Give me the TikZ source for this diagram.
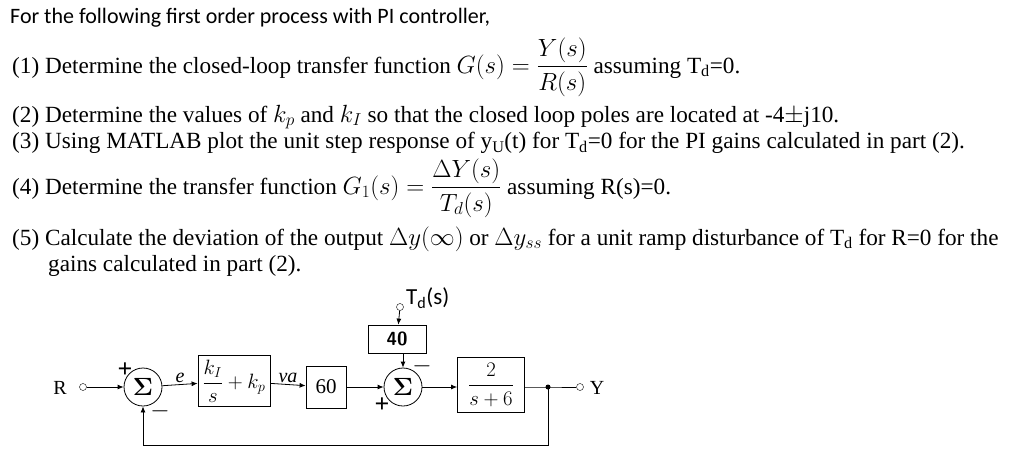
\documentclass[tikz,border=0pt]{standalone}
\usepackage{amsmath}
\usepackage{fontspec}
\setmainfont{Liberation Serif}
\newfontfamily\calib{Carlito}
\usetikzlibrary{arrows.meta}
\begin{document}
\begin{tikzpicture}[x=1pt,y=-1pt,
  txt/.style={anchor=west,inner sep=0pt,font=\fontsize{23.2}{26}\selectfont},
  blk/.style={draw,thick,inner sep=0pt,minimum height=#1,font=\fontsize{21}{24}\selectfont},
  sumn/.style={draw,thick,circle,minimum size=38pt,inner sep=0pt,font=\fontsize{26}{28}\selectfont},
  port/.style={draw,circle,minimum size=7pt,inner sep=0pt},
  sig/.style={-{Latex[length=6pt,width=5pt]},thick},
  lab/.style={inner sep=1pt,font=\fontsize{20}{22}\selectfont},
  sgn/.style={inner sep=0pt,font=\bfseries\fontsize{26}{28}\selectfont}]
\useasboundingbox (0,0) rectangle (1024,450);

% questions
\node[txt,font=\calib\fontsize{22}{24}\selectfont] (q0) at (10,18) {For the following first order process with PI controller,};
\node[txt] (q1) at (12,67) {(1) Determine the closed-loop transfer function $G(s)=\dfrac{Y(s)}{R(s)}$\ assuming T\textsubscript{d}=0.};
\node[txt] (q2) at (12,117) {(2) Determine the values of $k_p$ and $k_I$ so that the closed loop poles are located at -4$\pm$j10.};
\node[txt] (q3) at (12,143) {(3) Using MATLAB plot the unit step response of y\textsubscript{U}(t) for T\textsubscript{d}=0 for the PI gains calculated in part (2).};
\node[txt] (q4) at (12,188) {(4) Determine the transfer function $G_1(s)=\dfrac{\Delta Y(s)}{T_d(s)}$\ assuming R(s)=0.};
\node[txt] (q5) at (12,239) {(5) Calculate the deviation of the output $\Delta y(\infty)$ or $\Delta y_{ss}$ for a unit ramp disturbance of T\textsubscript{d} for R=0 for the};
\node[txt] (q5b) at (48,266) {gains calculated in part (2).};

% block diagram
\node[lab] (Rl) at (60,388) {R};
\node[port] (R) at (83,387) {};
\node[sumn] (s1) at (143,387) {$\boldsymbol{\Sigma}$};
\node[blk=51pt,minimum width=72pt] (pi) at (234,381) {$\dfrac{k_I}{s}+k_p$};
\node[blk=42pt,minimum width=40pt] (g60) at (326,387) {60};
\node[sumn] (s2) at (403,387) {$\boldsymbol{\Sigma}$};
\node[blk=28pt,minimum width=58pt,font=\sffamily\bfseries\fontsize{19}{20}\selectfont] (g40) at (397,339) {40};
\node[port] (Td) at (400,307) {};
\node[anchor=west,inner sep=0pt,font=\calib\fontsize{23}{25}\selectfont] (Tdl) at (406,298) {T\textsubscript{d}(s)};
\node[blk=55pt,minimum width=67pt] (gp) at (491,385) {$\dfrac{2}{s+6}$};
\coordinate (jn) at (548,387);
\node[port] (Y) at (580,387) {};
\node[lab] (Yl) at (597,388) {Y};
\coordinate (fb) at (548,445);

\draw[sig] (R) -- (s1);
\draw[sig] (s1) -- node[lab,above] {\textit{e}} (pi);
\draw[sig] (pi) -- node[lab,above] {\textit{va}} (g60);
\draw[sig] (g60) -- (s2);
\draw[sig] (s2) -- (gp.west|-s2);
\draw[sig] (Td) -- (g40);
\draw[sig] (g40.south-|s2) -- (s2);
\draw[thick] (gp.east|-jn) -- (jn) -- (Y);
\fill (jn) circle (2.5pt);
\draw[sig] (jn) -- (fb) -| (s1);

\node[sgn] (p1) at (125,370) {+};
\node[sgn] (m1) at (160,411) {$-$};
\node[sgn] (p2) at (382,405) {+};
\node[sgn] (m2) at (422,366) {$-$};
\end{tikzpicture}
\end{document}
